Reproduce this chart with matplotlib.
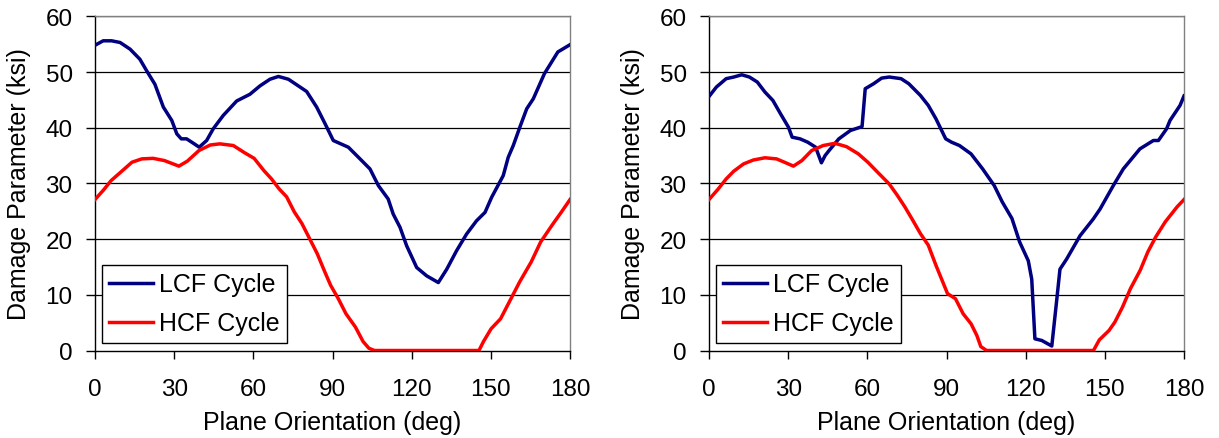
import matplotlib
matplotlib.use("Agg")
import matplotlib.pyplot as plt

plt.rcParams['font.family'] = ['Liberation Sans', 'DejaVu Sans']

# ---- data ----
lcf1_x = [0, 3.1, 6.3, 9.5, 13.3, 17, 19.6, 22.7, 25.9, 29.1, 31, 32.7, 34.7, 37.3, 39.5,
          42.3, 44.8, 48.6, 53.7, 58.7, 62.5, 66.3, 69.5, 73.3, 77.7, 80.2, 84, 87.2, 90.3,
          96, 99.8, 104.2, 107.4, 111.1, 113, 115.6, 118.1, 121.9, 125.7, 130.1, 133.3, 137,
          140.8, 144.6, 147.8, 150.3, 154.7, 156.6, 158.5, 161, 163.6, 166.1, 170.3, 175.4, 180]
lcf1_y = [54.8, 55.6, 55.6, 55.3, 54.1, 52.3, 50.2, 47.8, 43.7, 41.3, 38.9, 38.0, 38.0, 37.2, 36.5,
          37.7, 39.8, 42.2, 44.8, 46.0, 47.5, 48.7, 49.2, 48.7, 47.3, 46.5, 43.7, 40.7, 37.7,
          36.5, 34.7, 32.6, 29.6, 27.2, 24.5, 22.1, 18.8, 14.9, 13.4, 12.2, 14.6, 17.9,
          20.9, 23.3, 24.8, 27.5, 31.4, 34.7, 36.8, 40.1, 43.4, 45.2, 49.7, 53.6, 54.9]

hcf1_x = [0, 3.2, 6.1, 9.7, 14, 17.7, 22, 26.3, 31.8, 35, 39.4, 43.7, 47.3, 52.4, 56.7, 60.3,
          64, 66.9, 69.8, 72.6, 75.5, 78.4, 81.3, 84.2, 87.1, 89.3, 92.2, 95.1, 98.7, 101.6,
          103.8, 105.9, 145.5, 147.2, 150.1, 153.7, 157.3, 160.9, 165.3, 168.9, 173.2, 176.8, 180]
hcf1_y = [27.1, 28.8, 30.5, 32.0, 33.8, 34.4, 34.5, 34.1, 33.1, 34.0, 35.9, 36.9, 37.1, 36.8, 35.5, 34.5,
          32.3, 30.8, 29.0, 27.6, 24.9, 22.8, 20.1, 17.4, 14.1, 11.7, 9.3, 6.6, 4.2, 1.6,
          0.4, 0, 0, 1.6, 3.9, 5.7, 9.0, 12.3, 15.9, 19.5, 22.5, 24.9, 27.1]

lcf2_x = [0, 2.8, 6.5, 9.4, 12.4, 15.3, 18.3, 21.2, 24.2, 27.1, 30.1, 31.5, 34.5, 37.4, 40.4,
          42.6, 44.0, 45.5, 49.2, 53.6, 58.0, 59.2, 62.4, 65.4, 68.3, 72.8, 75.7, 80.1, 83.1,
          86.0, 89.7, 91.9, 94.9, 99.3, 103.7, 108.1, 111.1, 114.8, 117.7, 121.0, 122.3, 123.5,
          126.1, 129.9, 131.8, 133.0, 135.5, 140.6, 145.6, 148.2, 153.2, 157.0, 163.3, 168.4,
          170.3, 173.4, 174.7, 178.5, 180]
lcf2_y = [45.6, 47.3, 48.8, 49.1, 49.5, 49.1, 48.2, 46.4, 44.9, 42.5, 40.1, 38.3, 38.0, 37.4, 36.5,
          33.7, 35.0, 35.9, 38.0, 39.5, 40.2, 47.0, 47.9, 48.9, 49.1, 48.8, 47.9, 45.8, 44.0,
          41.6, 38.0, 37.4, 36.8, 35.3, 32.6, 29.6, 26.7, 23.7, 19.5, 16.1, 12.8, 2.1,
          1.8, 0.8, 9.2, 14.6, 16.4, 20.6, 23.6, 25.4, 29.6, 32.6, 36.2, 37.7,
          37.7, 39.8, 41.3, 44.0, 45.7]

hcf2_x = [0, 3.5, 6.5, 9.4, 13.1, 16.8, 21.2, 25.6, 28.6, 32, 35.2, 38.9, 43.3, 47.7, 52.1, 56.6,
          60.2, 63.9, 68.3, 71.3, 74.2, 77.2, 80.1, 83.1, 86.0, 90.4, 93.4, 96.3, 99.3, 101.5,
          103.0, 105.2, 145.7, 147.9, 151.6, 153.8, 156.7, 159.7, 163.4, 166.3, 169.3, 172.9,
          177.4, 180]
hcf2_y = [27.1, 29.0, 30.8, 32.2, 33.5, 34.2, 34.6, 34.4, 33.8, 33.1, 34.1, 35.9, 36.8, 37.2, 36.6, 35.3,
          33.8, 32.0, 29.9, 27.9, 25.8, 23.4, 21.0, 18.9, 15.3, 10.2, 9.3, 6.6, 4.8, 2.7,
          0.7, 0, 0, 1.9, 3.6, 5.1, 7.8, 11.1, 14.4, 17.7, 20.4, 23.1,
          25.8, 27.1]

x_ticks = [0, 30, 60, 90, 120, 150, 180]
y_ticks = [0, 10, 20, 30, 40, 50, 60]
series_names = ["LCF Cycle", "HCF Cycle"]
colors = ["#000080", "#FF0000"]

W, H = 1219, 439
fig = plt.figure(figsize=(W / 100, H / 100), dpi=100)

ax_left_px = [95, 709]
ax_w_px = 475
ax_top_px, ax_bot_px = 17.3, 351.5
ax_h_px = ax_bot_px - ax_top_px

panels = [((lcf1_x, lcf1_y), (hcf1_x, hcf1_y)), ((lcf2_x, lcf2_y), (hcf2_x, hcf2_y))]

for lp, (lcf, hcf) in zip(ax_left_px, panels):
    ax = fig.add_axes([lp / W, (H - ax_bot_px) / H, ax_w_px / W, ax_h_px / H])
    for yv in y_ticks[1:]:
        ax.axhline(yv, color='black', lw=0.9, zorder=1)
    ax.plot(lcf[0], lcf[1], color=colors[0], lw=2.5, label=series_names[0], zorder=3,
            solid_joinstyle='round')
    ax.plot(hcf[0], hcf[1], color=colors[1], lw=2.5, label=series_names[1], zorder=3,
            solid_joinstyle='round')
    ax.set_xlim(0, 180)
    ax.set_ylim(0, 60)
    ax.set_xticks(x_ticks)
    ax.set_yticks(y_ticks)
    ax.tick_params(axis='x', direction='out', length=5.8, width=1, labelsize=17.5, pad=14,
                   colors='black')
    ax.tick_params(axis='y', direction='out', length=6.5, width=1, labelsize=17.5, pad=9.6,
                   colors='black')
    ax.spines['left'].set_color('black')
    ax.spines['bottom'].set_color('black')
    ax.spines['top'].set_color('#808080')
    ax.spines['right'].set_color('#808080')
    for s in ax.spines.values():
        s.set_linewidth(1)
    ax.set_xlabel("Plane Orientation (deg)", fontsize=18)
    ax.set_ylabel("Damage Parameter (ksi)", fontsize=18)
    ax.xaxis.set_label_coords(0.5, (ax_bot_px - 411) / ax_h_px)
    ax.yaxis.set_label_coords((31 - 95) / ax_w_px, 0.5)
    leg = ax.legend(loc='lower left', bbox_to_anchor=(6.5 / ax_w_px, 7.5 / ax_h_px),
                    borderaxespad=0, fontsize=18, frameon=True, fancybox=False,
                    edgecolor='black', handlelength=1.76, handletextpad=0.25,
                    labelspacing=0.6, borderpad=0.3)
    leg.get_frame().set_linewidth(1)
    leg.get_frame().set_alpha(1)

fig.savefig("out.png", dpi=100)
